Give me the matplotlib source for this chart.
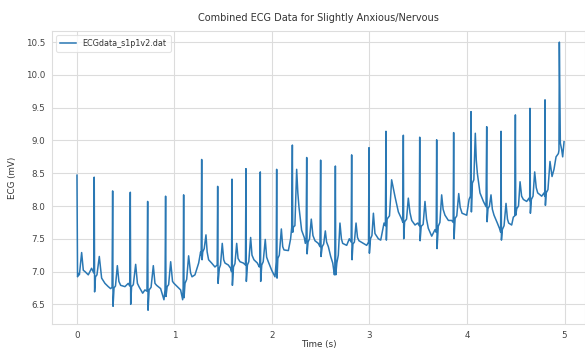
import matplotlib
matplotlib.use("Agg")
import matplotlib.pyplot as plt
import numpy as np

# ---- data ----
# R peaks
r_t = [0.000, 0.177, 0.366, 0.547, 0.725, 0.909, 1.094, 1.279, 1.443, 1.590,
       1.733, 1.880, 2.048, 2.209, 2.356, 2.499, 2.650, 2.817, 2.995, 3.169,
       3.347, 3.515, 3.689, 3.863, 4.041, 4.202, 4.349, 4.496, 4.646, 4.800, 4.947]
r_mv = [8.47, 8.44, 8.23, 8.21, 8.07, 8.15, 8.17, 8.71, 8.30, 8.41,
        8.57, 8.52, 8.56, 8.93, 8.74, 8.70, 8.61, 8.78, 8.89, 9.14,
        9.08, 9.05, 9.01, 9.12, 9.44, 9.21, 9.14, 9.39, 9.49, 9.62, 10.50]
# S dips right after each R peak
s_t = [0.006, 0.181, 0.370, 0.551, 0.729, 0.913, 1.098, 1.283, 1.447, 1.594,
       1.737, 1.884, 2.052, 2.213, 2.360, 2.503, 2.654, 2.821, 2.999, 3.173,
       3.351, 3.519, 3.693, 3.867, 4.045, 4.206, 4.353, 4.500, 4.650, 4.804, 4.957]
s_mv = [6.92, 6.69, 6.47, 6.50, 6.41, 6.62, 6.60, 7.18, 6.82, 6.79,
        6.85, 6.85, 6.90, 7.60, 7.27, 7.23, 6.95, 7.18, 7.28, 7.48,
        7.50, 7.47, 7.35, 7.50, 7.91, 7.76, 7.48, 7.86, 7.89, 8.01, 8.96]
# T waves
tw_t = [0.048, 0.229, 0.414, 0.602, 0.783, 0.961, 1.145, 1.323, 1.490, 1.638,
        1.781, 1.931, 2.096, 2.253, 2.403, 2.547, 2.697, 2.862, 3.040, 3.227,
        3.398, 3.569, 3.740, 3.915, 4.085, 4.246, 4.400, 4.544, 4.694, 4.851]
tw_mv = [7.29, 7.23, 7.09, 7.11, 7.09, 7.15, 7.24, 7.56, 7.43, 7.43,
         7.52, 7.49, 7.65, 8.56, 7.80, 7.62, 7.74, 7.74, 7.89, 8.40,
         8.12, 8.07, 8.17, 8.19, 9.11, 8.17, 8.04, 8.37, 8.52, 8.68]
# baseline samples between the waves
base_t = [0.014, 0.025, 0.065, 0.082, 0.116, 0.150, 0.172,
          0.190, 0.205, 0.253, 0.287, 0.321, 0.345, 0.360,
          0.380, 0.395, 0.430, 0.448, 0.492, 0.526, 0.541,
          0.560, 0.578, 0.620, 0.636, 0.674, 0.697, 0.718,
          0.740, 0.760, 0.800, 0.817, 0.858, 0.892, 0.903,
          0.925, 0.940, 0.980, 0.995, 1.029, 1.063, 1.084, 1.089,
          1.108, 1.125, 1.165, 1.180, 1.210, 1.248, 1.268, 1.274,
          1.290, 1.305, 1.335, 1.350, 1.381, 1.415, 1.438,
          1.460, 1.472, 1.505, 1.518, 1.552, 1.576, 1.585,
          1.605, 1.620, 1.652, 1.672, 1.706, 1.728,
          1.748, 1.762, 1.795, 1.815, 1.850, 1.870, 1.876,
          1.895, 1.910, 1.945, 1.962, 1.997, 2.031, 2.043,
          2.060, 2.075, 2.110, 2.123, 2.168, 2.191, 2.202,
          2.220, 2.235, 2.265, 2.277, 2.304, 2.331, 2.342, 2.350,
          2.370, 2.385, 2.420, 2.441, 2.475, 2.492,
          2.515, 2.530, 2.560, 2.578, 2.602, 2.623, 2.640, 2.645,
          2.665, 2.680, 2.712, 2.725, 2.766, 2.793, 2.812,
          2.830, 2.845, 2.877, 2.892, 2.937, 2.971, 2.990,
          3.010, 3.025, 3.056, 3.091, 3.115, 3.149, 3.163,
          3.180, 3.205, 3.262, 3.296, 3.330, 3.342,
          3.360, 3.380, 3.415, 3.433, 3.467, 3.494, 3.510,
          3.530, 3.550, 3.585, 3.603, 3.638, 3.672, 3.684,
          3.705, 3.722, 3.755, 3.774, 3.809, 3.843, 3.858,
          3.878, 3.895, 3.930, 3.949, 3.997, 4.021, 4.035,
          4.055, 4.070, 4.095, 4.106, 4.133, 4.168, 4.195,
          4.215, 4.230, 4.260, 4.277, 4.311, 4.338, 4.345,
          4.362, 4.380, 4.415, 4.427, 4.458, 4.475, 4.490,
          4.510, 4.528, 4.560, 4.578, 4.612, 4.636, 4.643,
          4.660, 4.677, 4.710, 4.725, 4.766, 4.790, 4.797,
          4.812, 4.830, 4.872, 4.892, 4.913, 4.937, 4.943,
          4.971, 4.981, 4.995]
base_mv = [6.97, 6.95, 7.02, 7.00, 6.95, 7.05, 6.98,
           6.92, 6.95, 6.90, 6.82, 6.77, 6.74, 6.76,
           6.75, 6.78, 6.85, 6.79, 6.77, 6.82, 6.78,
           6.77, 6.80, 6.82, 6.77, 6.67, 6.72, 6.70,
           6.72, 6.76, 6.82, 6.79, 6.74, 6.57, 6.72,
           6.77, 6.80, 6.85, 6.82, 6.77, 6.72, 6.57, 6.75,
           6.82, 6.88, 6.98, 6.92, 6.95, 7.13, 7.30, 7.25,
           7.30, 7.35, 7.30, 7.18, 7.13, 7.07, 7.10,
           7.05, 7.10, 7.18, 7.13, 7.10, 7.05, 7.00,
           7.07, 7.12, 7.20, 7.15, 7.13, 7.10,
           7.10, 7.15, 7.25, 7.18, 7.13, 7.07, 7.10,
           7.10, 7.15, 7.22, 7.15, 7.02, 6.92, 7.15,
           7.20, 7.25, 7.38, 7.33, 7.32, 7.50, 7.67,
           7.68, 7.70, 8.20, 7.98, 7.63, 7.52, 7.43, 7.52,
           7.45, 7.50, 7.55, 7.47, 7.43, 7.38,
           7.38, 7.42, 7.45, 7.38, 7.23, 7.13, 6.95, 7.05,
           7.13, 7.25, 7.50, 7.43, 7.40, 7.50, 7.45,
           7.42, 7.45, 7.52, 7.47, 7.43, 7.40, 7.45,
           7.50, 7.55, 7.58, 7.50, 7.48, 7.74, 7.70,
           7.80, 7.85, 8.14, 7.91, 7.80, 7.75,
           7.76, 7.80, 7.90, 7.78, 7.71, 7.74, 7.70,
           7.69, 7.72, 7.80, 7.66, 7.54, 7.64, 7.60,
           7.69, 7.75, 7.95, 7.86, 7.78, 7.78, 7.75,
           7.81, 7.85, 7.98, 7.89, 7.86, 8.10, 8.15,
           8.35, 8.40, 8.70, 8.50, 8.20, 8.07, 7.99,
           7.96, 8.00, 7.95, 7.86, 7.74, 7.64, 7.60,
           7.64, 7.70, 7.80, 7.74, 7.71, 7.83, 7.85,
           7.96, 8.00, 8.15, 8.10, 8.07, 8.12, 8.08,
           8.10, 8.15, 8.28, 8.20, 8.15, 8.20, 8.15,
           8.20, 8.25, 8.45, 8.56, 8.75, 8.80, 8.85,
           8.86, 8.75, 8.98]

series_label = "ECGdata_s1p1v2.dat"
title = "Combined ECG Data for Slightly Anxious/Nervous"
x_label = "Time (s)"
y_label = "ECG (mV)"
x_ticks = [0, 1, 2, 3, 4, 5]
y_ticks = [6.5, 7.0, 7.5, 8.0, 8.5, 9.0, 9.5, 10.0, 10.5]

# ---- assemble the trace ----
t_all = np.concatenate([r_t, s_t, tw_t, base_t])
v_all = np.concatenate([r_mv, s_mv, tw_mv, base_mv])
order = np.argsort(t_all, kind="stable")
t_all = t_all[order]
v_all = v_all[order]

# ---- figure ----
W, H = 585, 350
fig = plt.figure(figsize=(W / 100, H / 100), dpi=100)
ax = fig.add_axes([52 / W, 1 - 324 / H, (W - 52) / W, (324 - 31) / H])
ax.set_facecolor("white")

ax.plot(t_all, v_all, color="#2a78b4", linewidth=1.1, label=series_label)

ax.set_xlim(-0.256, 5.21)
ax.set_ylim(6.2, 10.67)
ax.set_xticks(x_ticks)
ax.set_yticks(y_ticks)
ax.set_yticklabels([f"{v:.1f}" for v in y_ticks])
ax.grid(True, color="#dcdcdc", linewidth=0.8)
ax.set_axisbelow(True)
for s in ax.spines.values():
    s.set_color("#dddddd")
    s.set_linewidth(0.8)
ax.tick_params(axis="both", length=0, labelsize=6.3, colors="#444444", pad=5)

ax.set_title(title, fontsize=7.0, color="#333333", pad=7)
ax.set_xlabel(x_label, fontsize=6.3, color="#333333", labelpad=0)
ax.set_ylabel(y_label, fontsize=6.3, color="#333333", labelpad=6)

leg = ax.legend(loc="upper left", fontsize=5.8, frameon=True, fancybox=True,
                borderpad=0.5, handlelength=2.0, bbox_to_anchor=(0.0, 1.0))
leg.get_frame().set_edgecolor("#dddddd")
leg.get_frame().set_linewidth(0.8)
for txt in leg.get_texts():
    txt.set_color("#333333")

fig.savefig("out.png", dpi=100, facecolor="white")
